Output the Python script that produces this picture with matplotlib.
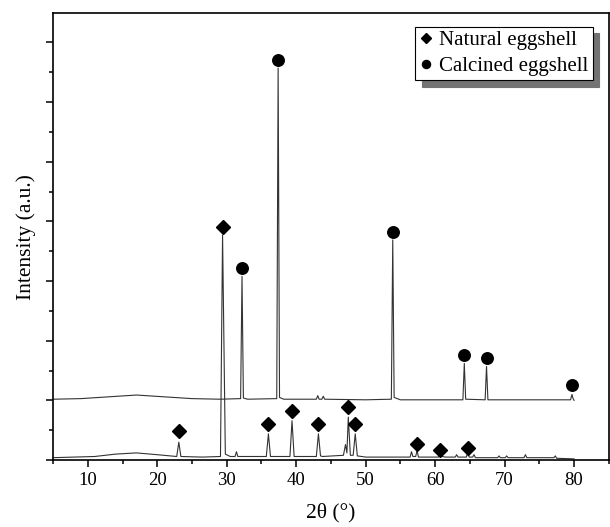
import matplotlib
matplotlib.use("Agg")
import matplotlib.pyplot as plt
from matplotlib.ticker import MultipleLocator, NullFormatter

plt.rcParams['font.family'] = ['Liberation Serif', 'DejaVu Serif']

# natural eggshell pattern, vertices (2theta, intensity)
natural_x = [5.0, 8.0, 11.0, 14.0, 17.0, 20.0, 22.8, 23.1, 23.4, 26.5,
             29.1, 29.4, 29.8, 30.5, 31.2, 31.4, 31.6, 35.7, 36.0, 36.3,
             39.1, 39.4, 39.7, 42.9, 43.2, 43.5, 43.8, 46.8, 47.1, 47.3,
             47.5, 47.8, 48.2, 48.5, 48.8, 50.0, 56.4, 56.6, 56.8, 57.2,
             57.4, 57.6, 60.5, 60.7, 61.0, 61.5, 62.9, 63.1, 63.3, 64.5,
             64.7, 64.9, 65.4, 65.6, 65.8, 69.0, 69.2, 69.4, 70.1, 70.3,
             70.5, 72.8, 73.0, 73.2, 77.1, 77.3, 77.5, 80.0]
natural_y = [0.04, 0.05, 0.06, 0.10, 0.12, 0.09, 0.06, 0.30, 0.06, 0.05,
             0.06, 3.77, 0.10, 0.06, 0.06, 0.14, 0.06, 0.06, 0.44, 0.06,
             0.06, 0.66, 0.06, 0.06, 0.44, 0.07, 0.06, 0.08, 0.26, 0.12,
             0.72, 0.08, 0.08, 0.44, 0.07, 0.05, 0.05, 0.14, 0.06, 0.06,
             0.16, 0.05, 0.05, 0.10, 0.06, 0.05, 0.05, 0.09, 0.05, 0.05,
             0.13, 0.05, 0.05, 0.09, 0.04, 0.04, 0.07, 0.04, 0.04, 0.07,
             0.04, 0.04, 0.09, 0.04, 0.04, 0.07, 0.03, 0.02]

# calcined eggshell pattern (offset trace)
calcined_x = [5.0, 9.0, 13.0, 17.0, 21.0, 25.0, 29.0, 32.0, 32.2, 32.4,
              33.0, 37.2, 37.4, 37.6, 38.2, 42.9, 43.1, 43.3, 43.7, 43.9,
              44.1, 50.0, 53.7, 53.9, 54.1, 55.0, 64.0, 64.2, 64.4, 67.2,
              67.4, 67.6, 79.5, 79.7, 79.8, 80.0]
calcined_y = [1.02, 1.03, 1.06, 1.09, 1.06, 1.03, 1.02, 1.03, 3.08, 1.04,
              1.02, 1.03, 6.57, 1.05, 1.02, 1.02, 1.08, 1.02, 1.02, 1.07,
              1.02, 1.01, 1.02, 3.69, 1.05, 1.01, 1.01, 1.62, 1.02, 1.01,
              1.57, 1.01, 1.01, 1.10, 1.05, 1.00]

# phase markers
natural_mark_x = [23.1, 29.4, 36.0, 39.4, 43.2, 47.5, 48.5, 57.4, 60.7, 64.7]
natural_mark_y = [0.49, 3.90, 0.60, 0.82, 0.60, 0.89, 0.60, 0.27, 0.17, 0.20]
calcined_mark_x = [32.2, 37.4, 53.9, 64.2, 67.4, 79.7]
calcined_mark_y = [3.22, 6.70, 3.82, 1.76, 1.71, 1.26]

fig = plt.figure(figsize=(6.10, 5.27), dpi=100)
ax = fig.add_axes([0.087, 0.127, 0.911, 0.848])

ax.plot(natural_x, natural_y, color='0.2', lw=0.8)
ax.plot(calcined_x, calcined_y, color='0.2', lw=0.8)
ax.plot(natural_mark_x, natural_mark_y, 'D', color='black', ms=6.8, ls='none',
        label='Natural eggshell')
ax.plot(calcined_mark_x, calcined_mark_y, 'o', color='black', ms=8.3, ls='none',
        label='Calcined eggshell')

ax.set_xlim(5, 85)
ax.set_ylim(0, 7.49)
ax.xaxis.set_major_locator(MultipleLocator(10))
ax.xaxis.set_minor_locator(MultipleLocator(5))
ax.yaxis.set_major_locator(MultipleLocator(1))
ax.yaxis.set_minor_locator(MultipleLocator(0.5))
ax.yaxis.set_major_formatter(NullFormatter())

ax.tick_params(which='major', direction='out', length=5, width=1.1, labelsize=13.5)
ax.tick_params(which='minor', direction='out', length=3, width=1.1)
for s in ax.spines.values():
    s.set_linewidth(1.2)

ax.set_xlabel('2θ (°)', fontsize=15.5, labelpad=10)
ax.set_ylabel('Intensity (a.u.)', fontsize=15.5, labelpad=4)

leg = ax.legend(loc='upper right', bbox_to_anchor=(0.971, 0.97), fancybox=False,
                frameon=True, edgecolor='black', fontsize=15, handletextpad=0.3,
                handlelength=0.65, borderpad=0.2, labelspacing=0.3,
                borderaxespad=0.0, markerscale=0.7,
                shadow={'ox': 4.5, 'oy': -4.5, 'facecolor': '0.45',
                        'edgecolor': '0.45', 'alpha': 1})
leg.get_frame().set_linewidth(0.8)

fig.savefig('out.png', dpi=100)
